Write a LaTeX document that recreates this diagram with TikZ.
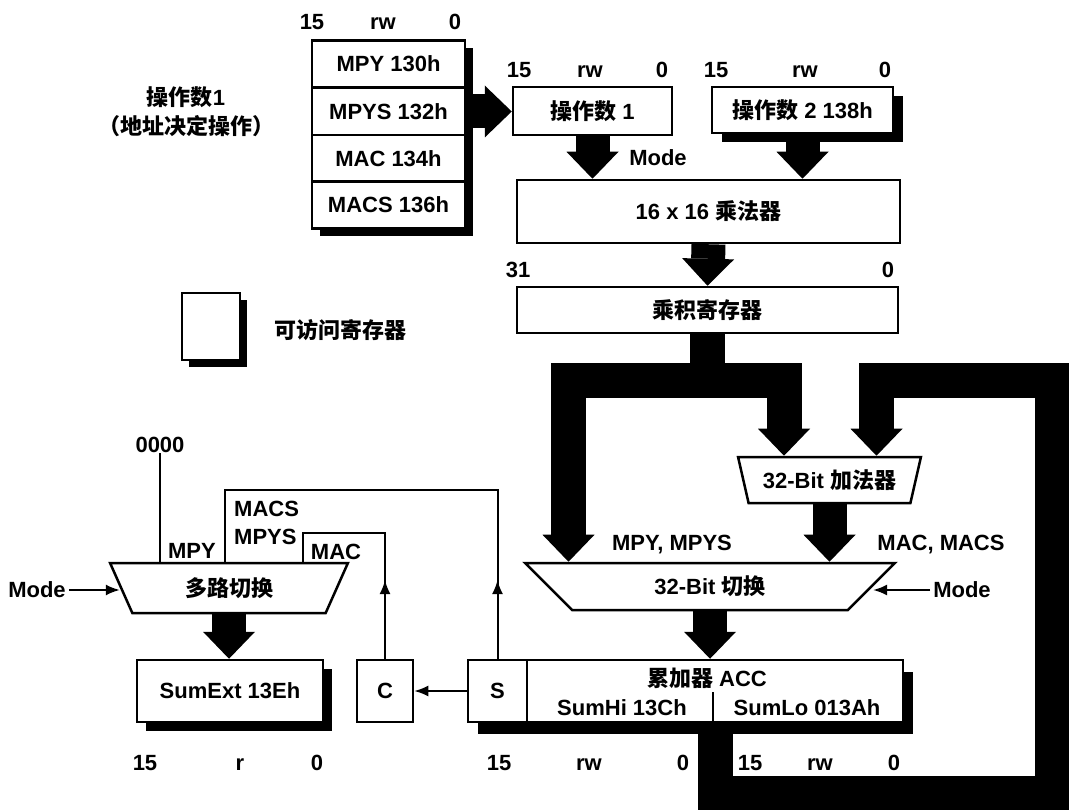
\documentclass[tikz,border=0pt]{standalone}
\usepackage{fontspec}
\setmainfont{Liberation Sans}
\newfontfamily\cjk{Noto Sans CJK SC}
\usetikzlibrary{arrows.meta,shapes.geometric}
\tikzset{
  fattip/.tip={Triangle[width=52pt,length=27pt,line width=0pt]},
  box/.style={draw, line width=2.5pt, fill=white, inner sep=0pt},
  trap/.style={draw, line width=2.5pt, fill=white, trapezium, shape border rotate=180, trapezium stretches=true, inner sep=0pt},
  fat/.style={line width=34pt, line join=miter, -fattip},
  bus/.style={line width=35pt, line join=miter},
  wire/.style={line width=2pt},
  tipw/.style={-{Latex[length=14pt,width=11pt]}},
  lbl/.style={inner sep=0pt},
  bit/.style={inner sep=0pt, anchor=base},
  shadowfill/.style={fill=black},
}
\begin{document}
\begin{tikzpicture}[x=1pt,y=-1pt,font=\fontsize{22}{26}\selectfont\bfseries]
\useasboundingbox (0,0) rectangle (1069,810);
\clip (0,0) rectangle (1069,810);

% shadows of accessible registers
\fill[shadowfill] (320,48) rectangle (473,236);
\fill[shadowfill] (722,96) rectangle (903,142);
\fill[shadowfill] (189,300) rectangle (247,367);
\fill[shadowfill] (146,669) rectangle (332,731);
\fill[shadowfill] (478,672) rectangle (913,734);

% register stack
\node[box, minimum width=153pt, minimum height=47pt] (r1) at (388.5,64) {MPY 130h};
\node[box, minimum width=153pt, minimum height=47pt] (r2) at (388.5,111.5) {MPYS 132h};
\node[box, minimum width=153pt, minimum height=47pt] (r3) at (388.5,158.5) {MAC 134h};
\node[box, minimum width=153pt, minimum height=47pt] (r4) at (388.5,205) {MACS 136h};
\node[bit] (s15) at (312,30) {15};
\node[bit] (srw) at (383,30) {rw};
\node[bit] (s0) at (455,30) {0};

% left caption
\node[lbl, align=center, font=\fontsize{22}{29}\selectfont\bfseries] (cap) at (186,112) {{\cjk 操作数}1\\{\cjk （地址决定操作）}};

% operands
\node[box, minimum width=159pt, minimum height=48pt] (op1) at (592.5,111) {{\cjk 操作数} 1};
\node[bit] (o15) at (519,78) {15};
\node[bit] (orw) at (590,78) {rw};
\node[bit] (o0) at (662,78) {0};
\node[box, minimum width=181pt, minimum height=46pt] (op2) at (802.5,110) {{\cjk 操作数} 2 138h};
\node[bit] (p15) at (716,78) {15};
\node[bit] (prw) at (805,78) {rw};
\node[bit] (p0) at (885,78) {0};
\node[bit] (mode1) at (658,166) {Mode};

% multiplier and product register
\node[box, minimum width=383pt, minimum height=63pt] (mult) at (708.5,211.5) {16 x 16 {\cjk 乘法器}};
\node[bit] (q31) at (518,278) {31};
\node[bit] (q0) at (888,278) {0};
\node[box, minimum width=381pt, minimum height=46pt] (prod) at (707.5,310) {{\cjk 乘积寄存器}};

% legend
\node[box, minimum width=58pt, minimum height=67pt] (leg) at (211,326.5) {};
\node[lbl] (legt) at (340,330) {{\cjk 可访问寄存器}};

% adder and 32-bit switch
\node[trap, minimum width=183pt, minimum height=46pt, trapezium angle=67.5] (adder) at (829.5,480) {32-Bit {\cjk 加法器}};
\node[trap, minimum width=370pt, minimum height=47pt, trapezium angle=48] (mux32) at (710,586.5) {32-Bit {\cjk 切换}};
\node[bit] (lmpy) at (672,550) {MPY, MPYS};
\node[bit] (lmac) at (941,550) {MAC, MACS};
\node[lbl, inner sep=3pt] (modeR) at (962,590) {Mode};

% left multiplexer
\node[trap, minimum width=238pt, minimum height=50pt, trapezium angle=64.4] (mux16) at (229,588) {{\cjk 多路切换}};
\node[lbl, inner sep=3pt] (modeL) at (37,590) {Mode};
\node[lbl] (zero) at (160,445) {0000};
\node[bit] (tmpy) at (192,558) {MPY};
\node[bit, anchor=base west] (tmacs) at (234,516) {MACS};
\node[bit, anchor=base west] (tmpys) at (234,544) {MPYS};
\node[bit] (tmac) at (336,559) {MAC};

% bottom registers
\node[box, minimum width=186pt, minimum height=62pt] (sumext) at (230,691) {SumExt 13Eh};
\node[box, minimum width=56pt, minimum height=62pt] (C) at (385,691) {C};
\node[box, minimum width=376pt, minimum height=62pt] (acc) at (715,691) {};
\node[box, minimum width=59pt, minimum height=62pt] (S) at (497.5,691) {S};
\node[lbl] (acct) at (707,678) {{\cjk 累加器} ACC};
\node[lbl] (sumhi) at (622,708) {SumHi 13Ch};
\node[lbl] (sumlo) at (807,708) {SumLo 013Ah};
\draw[line width=2.5pt] (713,692) -- (713,0 |- acc.south);
\node[bit] (e15) at (145,770) {15};
\node[bit] (er) at (240,770) {r};
\node[bit] (e0) at (317,770) {0};
\node[bit] (h15) at (499,770) {15};
\node[bit] (hrw) at (589,770) {rw};
\node[bit] (h0) at (683,770) {0};
\node[bit] (l15) at (750,770) {15};
\node[bit] (lrw) at (820,770) {rw};
\node[bit] (l0) at (894,770) {0};

% fat arrows
\draw[fat] (r2.east) -- (r2.east -| op1.west);
\draw[fat] (op1.south) -- (op1.south |- mult.north);
\draw[fat] (op2.south) -- (op2.south |- mult.north);
\draw[fat] (mult.south) -- (prod.north);
\draw[bus] (prod.south) -- (prod.south |- 0,381);
\draw[bus, fattip-fattip] (568.5,0 |- mux32.north) -- (568.5,381) -- (784,381) -- (784,0 |- adder.north);
\draw[bus, -fattip] (acc.south) -- (715,793.5) -- (1052,793.5) -- (1052,381) -- (876.5,381) -- (876.5,0 |- adder.north);
\draw[fat] (adder.south) -- (adder.south |- mux32.north);
\draw[fat] (mux32.south) -- (mux32.south |- acc.north);
\draw[fat] (mux16.south) -- (mux16.south |- sumext.north);

% thin connectors
\draw[wire, tipw] (modeL.east) -- (modeL.east -| mux16.west);
\draw[wire, tipw] (modeR.west) -- (modeR.west -| mux32.east);
\draw[wire, tipw] (S.west) -- (C.east);
\draw[wire] (zero.south) -- (zero.south |- mux16.north);
\draw[wire] (S.north) |- (225,490) -- (225,0 |- mux16.north);
\draw[wire] (C.north) |- (303,533) -- (303,0 |- mux16.north);
\draw[wire, tipw] (S.north) -- (497.5,580);
\draw[wire, tipw] (C.north) -- (385,580);
\end{tikzpicture}
\end{document}
